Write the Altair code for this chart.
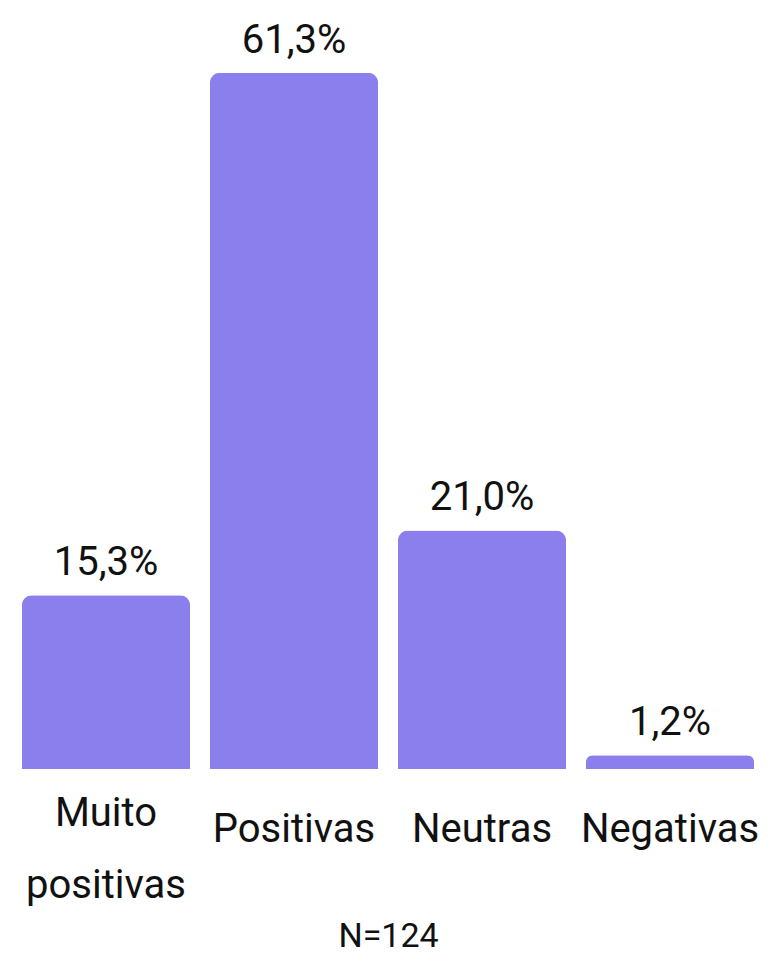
import altair as alt
import pandas as pd

categories = ["Muito positivas", "Positivas", "Neutras", "Negativas"]
values = [15.3, 61.3, 21.0, 1.2]
note = "N=124"

df = pd.DataFrame({"cat": categories, "v": values})

FONT = "Roboto"
COLOR = "#8a7fec"

base = alt.Chart(df).encode(
    x=alt.X(
        "cat:N",
        sort=categories,
        scale=alt.Scale(paddingInner=0.106, paddingOuter=0.053),
        axis=alt.Axis(
            title=note,
            titleFont=FONT,
            titleFontSize=34,
            titleFontWeight="normal",
            titleColor="#111111",
            titleX=376,
            titleY=184,
            titleBaseline="bottom",
            labelAngle=0,
            labelFont=FONT,
            labelFontSize=40,
            labelColor="#111111",
            labelBaseline={
                "condition": {"test": "datum.value == 'Muito positivas'", "value": "top"},
                "value": "line-top",
            },
            labelPadding=24,
            labelLineHeight=72,
            labelExpr="datum.value == 'Muito positivas' ? ['Muito', 'positivas'] : datum.value",
            ticks=False,
            domain=False,
            grid=False,
            labelLimit=0,
        ),
    ),
    y=alt.Y("v:Q", scale=alt.Scale(domain=[0, 66.3], nice=False), axis=None),
)

bars = base.mark_bar(color=COLOR, cornerRadiusTopLeft=10, cornerRadiusTopRight=10)

labels = base.transform_calculate(
    lab="replace(format(datum.v, '.1f'), '.', ',') + '%'"
).mark_text(
    font=FONT, fontSize=40, color="#111111", baseline="alphabetic", dy=-20
).encode(text="lab:N")

chart = (
    (bars + labels)
    .properties(
        width=752,
        height=753,
        autosize=alt.AutoSizeParams(type="none"),
        padding={"left": 4, "top": 8, "right": 5, "bottom": 185},
        view=alt.ViewBackground(strokeWidth=0, strokeOpacity=0),
    )
    .configure_view(strokeWidth=0, strokeOpacity=0)
    .configure(background="white")
)

chart.save("out.html", embed_options={"renderer": "svg", "actions": False})
